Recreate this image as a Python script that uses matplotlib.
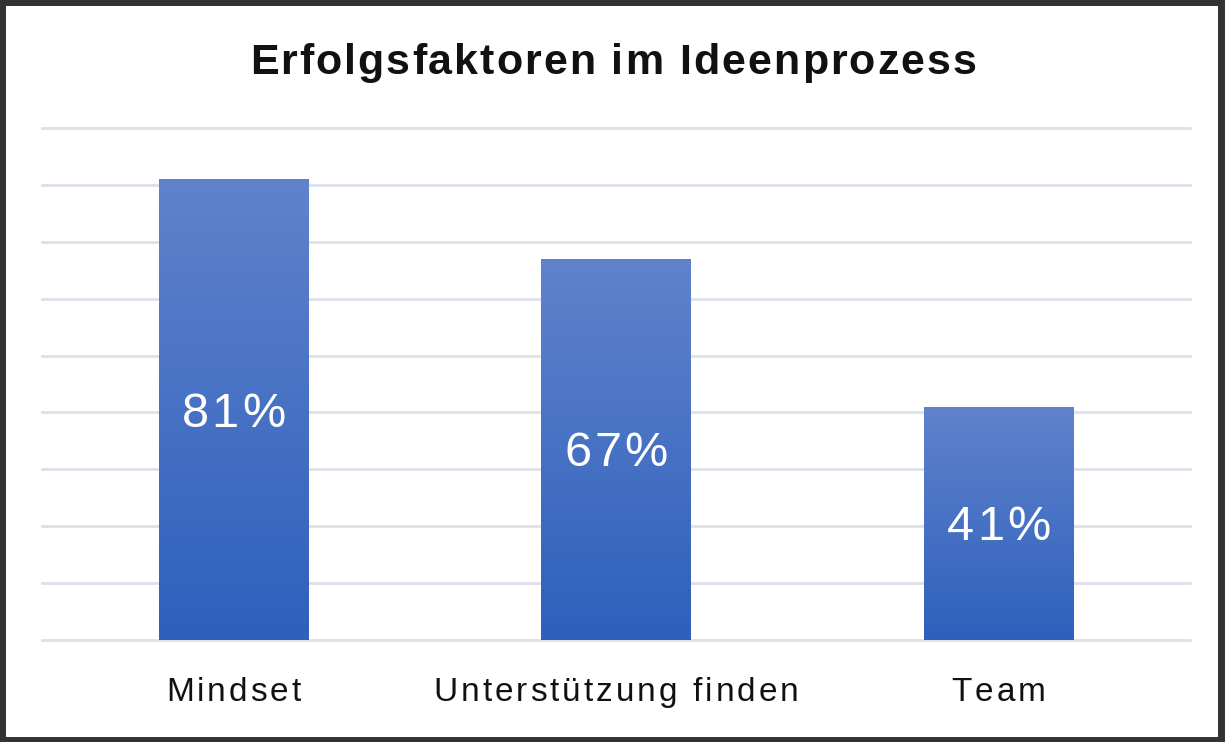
import numpy as np
import matplotlib.pyplot as plt
from matplotlib.colors import LinearSegmentedColormap
from matplotlib.patches import Rectangle
from matplotlib.transforms import IdentityTransform
from matplotlib.font_manager import FontProperties, findfont, get_font

categories = ["Mindset", "Unterstützung finden", "Team"]
values = [0.81, 0.67, 0.41]
labels = ["81%", "67%", "41%"]
title = "Erfolgsfaktoren im Ideenprozess"

W, H = 1226, 742
fig = plt.figure(figsize=(W / 100, H / 100), dpi=100)
ax = fig.add_axes([42 / W, 1 - 640 / H, 1148 / W, 512 / H])


def spaced_text(xc, yc, s, size, spacing, weight='normal', color='#111111', z=5):
    # draw text char by char (pixel coords), centred on the cap height, with extra tracking
    prop = FontProperties(family='Liberation Sans', weight=weight, size=size)
    font = get_font(findfont(prop))
    font.set_size(size, fig.dpi)
    adv = [font.load_char(ord(c)).linearHoriAdvance / 65536 for c in s]
    total = sum(adv) + spacing * (len(s) - 1)
    cap = 0.70 * size * fig.dpi / 72
    xx = xc - total / 2
    base = yc - cap / 2
    for c, a in zip(s, adv):
        if c != ' ':
            fig.text(xx, base, c, transform=IdentityTransform(), fontproperties=prop,
                     color=color, ha='left', va='baseline', zorder=z)
        xx += a + spacing


x = np.arange(len(categories))
bars = ax.bar(x, values, width=0.39, color='none', edgecolor='none', zorder=3)

# vertical gradient fill for each bar
cmap = LinearSegmentedColormap.from_list('bluegrad', ['#2E60BC', '#6083CC'])
grad = np.linspace(0, 1, 256).reshape(-1, 1)
for b in bars:
    x0, y0 = b.get_x(), b.get_y()
    w, h = b.get_width(), b.get_height()
    im = ax.imshow(grad, cmap=cmap, aspect='auto', origin='lower',
                   extent=[x0, x0 + w, y0, y0 + h], zorder=3)
    im.set_clip_path(b)
ax.set_xlim(-0.5, 2.5)
ax.set_ylim(0, 0.9)

ax.set_yticks(np.arange(0, 0.91, 0.1))
ax.yaxis.grid(True, color='#DCE1EA', linewidth=2, zorder=0)
for gl in ax.get_ygridlines():
    gl.set_clip_on(False)
ax.tick_params(axis='both', left=False, bottom=False, labelleft=False, labelbottom=False)
for s in ax.spines.values():
    s.set_visible(False)

# value labels inside bars
for xi, v, lab in zip(x, values, labels):
    px, py = ax.transData.transform((xi, v / 2))
    spaced_text(px, py, lab, 35, 3, color='white')

# category labels
for xi, cat in zip(x, categories):
    px, _ = ax.transData.transform((xi, 0))
    spaced_text(px, H - 689, cat, 24, 3)

spaced_text(W / 2, H - 59, title, 31, 2, weight='bold')

# outer frame
fig.patches.append(Rectangle((0.002, 0.003), 0.994, 0.994, transform=fig.transFigure,
                             fill=False, edgecolor='#333333', linewidth=5))

fig.savefig('out.png', dpi=100)
